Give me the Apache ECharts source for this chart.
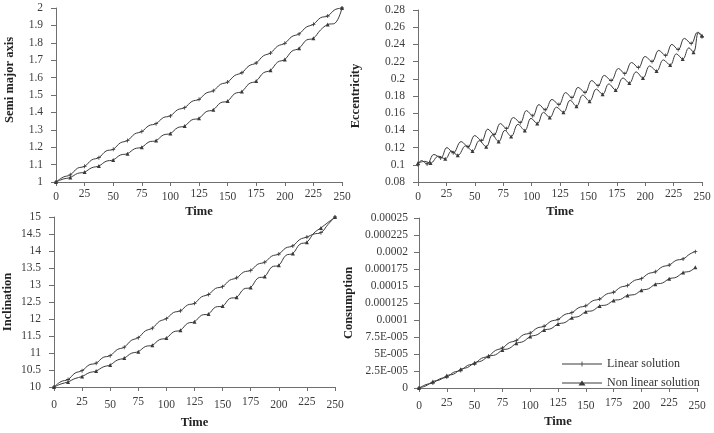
<!DOCTYPE html>
<html>
<head>
<meta charset="utf-8">
<script src="https://cdn.jsdelivr.net/npm/echarts@6/dist/echarts.min.js"></script>
<style>
  html, body { margin: 0; background: #fff; }
  #chart { width: 714px; height: 433px; }
</style>
</head>
<body>
<div id="chart"></div>
<script>
/* ---------------------- Data ---------------------- */
const TIME = [0,6.25,12.5,18.75,25,31.25,37.5,43.75,50,56.25,62.5,68.75,75,81.25,87.5,93.75,100,106.25,112.5,118.75,125,131.25,137.5,143.75,150,156.25,162.5,168.75,175,181.25,187.5,193.75,200,206.25,212.5,218.75,225,231.25,237.5,243.75,250];
const CONS_TIME = [0,6.25,12.5,18.75,25,31.25,37.5,43.75,50,56.25,62.5,68.75,75,81.25,87.5,93.75,100,106.25,112.5,118.75,125,131.25,137.5,143.75,150,156.25,162.5,168.75,175,181.25,187.5,193.75,200,206.25,212.5,218.75,225,231.25,237.5,243.75,248.5];

const SEMI_LINEAR = [1.000,1.028,1.041,1.079,1.090,1.127,1.140,1.178,1.188,1.225,1.238,1.276,1.290,1.324,1.335,1.370,1.380,1.415,1.427,1.463,1.475,1.511,1.524,1.561,1.574,1.612,1.628,1.668,1.684,1.725,1.741,1.781,1.797,1.836,1.851,1.890,1.906,1.944,1.954,1.990,2.000];
const SEMI_NONLINEAR = [1.000,1.017,1.026,1.049,1.057,1.082,1.092,1.119,1.127,1.155,1.163,1.191,1.200,1.230,1.238,1.270,1.279,1.312,1.322,1.357,1.366,1.404,1.415,1.455,1.465,1.508,1.520,1.565,1.580,1.627,1.642,1.689,1.704,1.752,1.768,1.815,1.826,1.874,1.905,1.912,2.000];

const ECC_LINEAR_T = [0,3,8,14,20,25.5,31,38,44,50,56,61.5,67,72.5,78,84,90,95.5,101,106.5,112,118,124,130,135.5,141,147,153,158.5,164,170,176.5,182,188,194,200,206,212,218,223.5,229,234.5,240.5,246,250];
const ECC_LINEAR = [0.100,0.105,0.101,0.112,0.108,0.120,0.114,0.127,0.121,0.134,0.128,0.1415,0.135,0.148,0.142,0.155,0.149,0.163,0.157,0.170,0.164,0.176,0.170,0.184,0.178,0.190,0.184,0.198,0.192,0.204,0.198,0.212,0.206,0.219,0.213,0.226,0.220,0.233,0.227,0.240,0.234,0.247,0.241,0.254,0.249];
const ECC_NONLINEAR_T = [0,6,11,18,24,29.5,35,42,48,54,60,65.5,71,76.5,82,88,94,99.5,105,110.5,116,122,128,134,139.5,145,151,157,162.5,168,174,180.5,186,192,198,204,210,216,222,227.5,233,238.5,242.5,247,250];
const ECC_NONLINEAR = [0.102,0.104,0.102,0.110,0.107,0.116,0.111,0.122,0.116,0.128,0.121,0.1345,0.127,0.140,0.133,0.147,0.140,0.154,0.148,0.161,0.155,0.167,0.161,0.175,0.168,0.181,0.174,0.188,0.182,0.194,0.187,0.201,0.195,0.208,0.201,0.215,0.209,0.222,0.216,0.229,0.223,0.236,0.231,0.254,0.250];

const INC_LINEAR = [10.00,10.16,10.22,10.41,10.48,10.65,10.70,10.87,10.92,11.10,11.17,11.37,11.45,11.65,11.73,11.93,12.01,12.19,12.24,12.41,12.46,12.65,12.72,12.90,12.95,13.14,13.21,13.38,13.43,13.61,13.67,13.85,13.91,14.09,14.15,14.34,14.41,14.50,14.54,14.78,15.00];
const INC_NONLINEAR = [10.00,10.09,10.15,10.25,10.31,10.42,10.47,10.59,10.65,10.79,10.85,10.99,11.04,11.19,11.23,11.39,11.44,11.62,11.67,11.87,11.92,12.11,12.15,12.35,12.38,12.60,12.64,12.88,12.93,13.20,13.25,13.53,13.58,13.87,13.93,14.20,14.26,14.53,14.68,14.84,15.00];

// consumption in units of 1E-006
const CONS_LINEAR = [0,5,7.5,13.5,16,23.2,25.8,33.2,35.8,43.7,46.8,55.2,58.8,66.7,69.8,78.2,80.8,88.2,90.8,98.2,100.8,108.2,110.8,118.2,120.8,128.2,130.8,138.2,140.8,148.2,150.8,158.2,160.8,168.2,170.8,178.2,180.8,187.7,189.8,197.2,200.5];
const CONS_NONLINEAR = [0,3.2,9.5,12,18.2,20.5,27.7,30.3,37.2,39.8,46.7,48.8,55.7,58.3,65.7,68.3,75.7,78.3,85.2,87.3,94.2,96.3,103.2,105.3,112.2,113.8,120.7,122.3,128.7,130.3,136.2,137.3,143.7,145.8,152.7,154.3,160.7,162.8,169.7,171.8,177.5];
const CONS_TICK_LABELS = ['0','2.5E-005','5E-005','7.5E-005','0.0001','0.000125','0.00015','0.000175','0.0002','0.000225','0.00025'];

const SERIES_NAMES = ['Linear solution', 'Non linear solution'];

/* ---------------------- Style ---------------------- */
const FONT = 'Liberation Serif';
const INK = '#3a3a3a';
const AXIS = '#6f6f6f';
const LABEL = '#3c3c3c';
const PLUS = 'path://M4,0H6V4H10V6H6V10H4V6H0V4H4Z';

function xAxis(idx, labelMargin, nameGap) {
  const txt = { fontFamily: FONT, fontSize: 11.5, color: LABEL };
  return {
    gridIndex: idx, type: 'value', min: 0, max: 250, interval: 25,
    name: 'Time', nameLocation: 'middle', nameGap,
    nameTextStyle: { fontFamily: FONT, fontSize: 12.5, fontWeight: 'bold', color: '#222' },
    axisLine: { lineStyle: { color: AXIS } },
    axisTick: { length: 4, lineStyle: { color: AXIS } },
    axisLabel: {
      margin: labelMargin,
      formatter: v => ((v / 25) % 2 === 0 ? '{lo|' : '{hi|') + v + '}',
      rich: { lo: Object.assign({ padding: [3, 0, 0, 0] }, txt), hi: Object.assign({}, txt) },
    },
    splitLine: { show: false },
  };
}

function yAxis(idx, name, min, max, interval, nameGap, extra) {
  return Object.assign({
    gridIndex: idx, type: 'value', min, max, interval,
    name, nameLocation: 'middle', nameGap,
    nameTextStyle: { fontFamily: FONT, fontSize: 12.5, fontWeight: 'bold', color: '#222' },
    axisLine: { show: true, lineStyle: { color: AXIS } },
    axisTick: { show: true, length: 5, lineStyle: { color: AXIS } },
    axisLabel: { margin: 13, fontFamily: FONT, fontSize: 11.5, color: LABEL },
    splitLine: { show: false },
  }, extra || {});
}

function lineSeries(name, idx, xs, ys, symbol) {
  return {
    name, type: 'line', xAxisIndex: idx, yAxisIndex: idx,
    data: xs.map((x, i) => [x, ys[i]]),
    smooth: 0.4,
    symbol,
    symbolSize: (v, p) => (p.dataIndex % 2 === 0 ? 4 : 0),
    showAllSymbol: true,
    lineStyle: { color: INK, width: 1 },
    itemStyle: { color: INK },
  };
}

const chart = echarts.init(document.getElementById('chart'), null, { renderer: 'canvas' });

chart.setOption({
  animation: false,
  backgroundColor: '#fff',
  grid: [
    { left: 56, right: 372, top: 8, bottom: 251 },
    { left: 418, right: 12, top: 10, bottom: 251 },
    { left: 53, right: 379, top: 217, bottom: 46 },
    { left: 419, right: 17, top: 218, bottom: 45 },
  ],
  xAxis: [xAxis(0, 6, 23), xAxis(1, 6, 23), xAxis(2, 9, 29), xAxis(3, 9, 27)],
  yAxis: [
    yAxis(0, 'Semi major axis', 1, 2, 0.1, 40, { nameTextStyle: { fontFamily: FONT, fontSize: 12.5, fontWeight: 'bold', color: '#222', padding: [0, 0, 0, 30] } }),
    yAxis(1, 'Eccentricity', 0.08, 0.28, 0.02, 56),
    yAxis(2, 'Inclination', 10, 15, 0.5, 40),
    yAxis(3, 'Consumption', 0, 250, 25, 64, {
      axisLabel: { margin: 11, fontFamily: FONT, fontSize: 11.5, color: LABEL, formatter: v => CONS_TICK_LABELS[Math.round(v / 25)] },
    }),
  ],
  legend: {
    orient: 'vertical', left: 557, top: 353, itemWidth: 40, itemHeight: 5, itemGap: 7,
    textStyle: { fontFamily: FONT, fontSize: 12, color: '#333' },
    data: [
      { name: SERIES_NAMES[0], icon: 'path://M0,4.6H40V5.4H0Z M19.6,2.5H20.4V7.5H19.6Z' },
      { name: SERIES_NAMES[1], icon: 'path://M0,4.6H40V5.4H0Z M16.5,7.5L20,2.5L23.5,7.5Z' },
    ],
  },
  series: [
    lineSeries(SERIES_NAMES[0], 0, TIME, SEMI_LINEAR, PLUS),
    lineSeries(SERIES_NAMES[1], 0, TIME, SEMI_NONLINEAR, 'triangle'),
    lineSeries(SERIES_NAMES[0], 1, ECC_LINEAR_T, ECC_LINEAR, PLUS),
    lineSeries(SERIES_NAMES[1], 1, ECC_NONLINEAR_T, ECC_NONLINEAR, 'triangle'),
    lineSeries(SERIES_NAMES[0], 2, TIME, INC_LINEAR, PLUS),
    lineSeries(SERIES_NAMES[1], 2, TIME, INC_NONLINEAR, 'triangle'),
    lineSeries(SERIES_NAMES[0], 3, CONS_TIME, CONS_LINEAR, PLUS),
    lineSeries(SERIES_NAMES[1], 3, CONS_TIME, CONS_NONLINEAR, 'triangle'),
  ],
});
</script>
</body>
</html>
